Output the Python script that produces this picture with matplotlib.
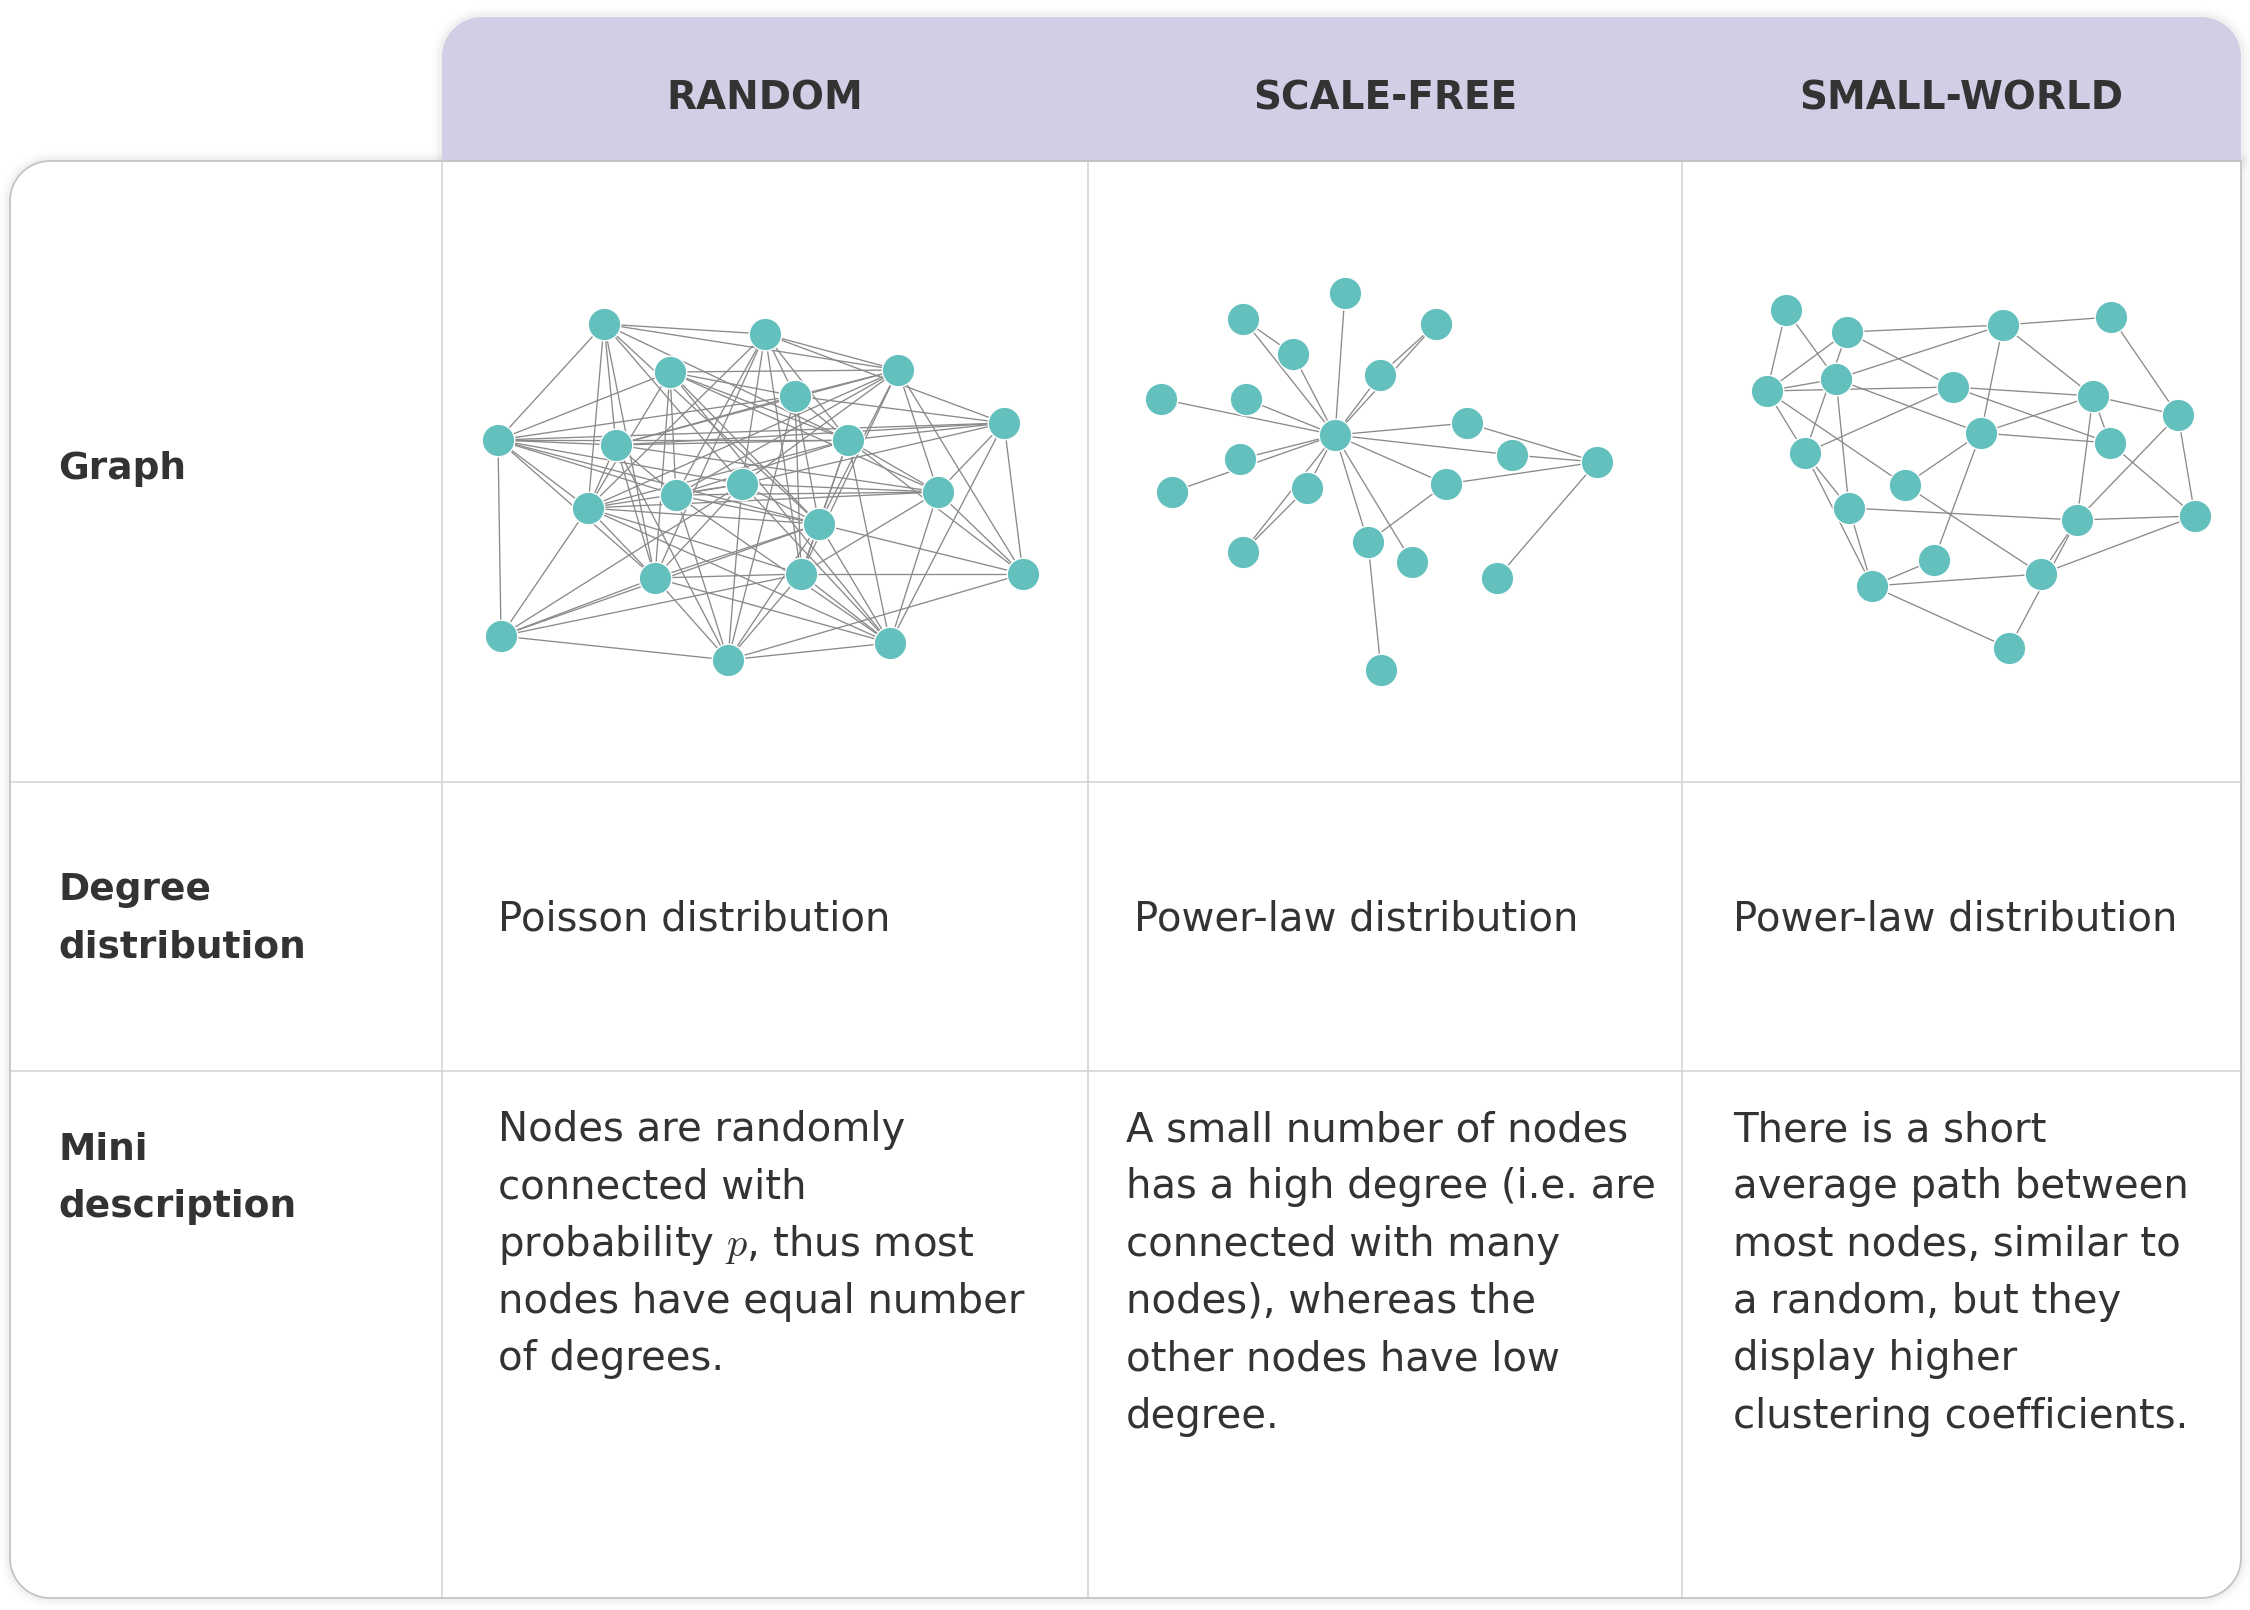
import numpy as np
import matplotlib
matplotlib.use("Agg")
import matplotlib.pyplot as plt
from matplotlib.path import Path
from matplotlib.patches import PathPatch
from matplotlib.collections import LineCollection

# ------------------------------------------------------
# Table content
# ------------------------------------------------------
columns = ["RANDOM", "SCALE-FREE", "SMALL-WORLD"]
row_labels = [["Graph"], ["Degree", "distribution"], ["Mini", "description"]]
degree_text = ["Poisson distribution", "Power-law distribution", "Power-law distribution"]
mini_text = [
    ["Nodes are randomly", "connected with", "probability $p$, thus most",
     "nodes have equal number", "of degrees."],
    ["A small number of nodes", "has a high degree (i.e. are", "connected with many",
     "nodes), whereas the", "other nodes have low", "degree."],
    ["There is a short", "average path between", "most nodes, similar to",
     "a random, but they", "display higher", "clustering coefficients."],
]

# ------------------------------------------------------
# Graph layouts (node positions, in pixels)
# ------------------------------------------------------
random_x = [604, 765, 670, 898, 795, 1004, 498, 616, 848, 742,
            676, 938, 588, 819, 655, 801, 1023, 501, 728, 890]
random_y = [324, 334, 372, 370, 396, 423, 440, 445, 440, 484,
            495, 492, 508, 524, 578, 574, 574, 636, 660, 643]
random_edges = [
    (0, 1), (0, 3), (0, 8), (0, 6), (0, 7), (0, 12), (0, 14), (0, 9), (0, 13),
    (1, 3), (1, 12), (1, 10), (1, 9), (1, 4), (1, 8), (1, 14), (1, 15), (1, 5),
    (2, 6), (2, 3), (2, 4), (2, 12), (2, 10), (2, 8), (2, 13), (2, 19), (2, 11), (2, 14),
    (3, 4), (3, 9), (3, 12), (3, 13), (3, 15), (3, 11), (3, 16), (3, 7), (3, 10),
    (4, 6), (4, 7), (4, 8), (4, 13), (4, 15), (4, 18), (4, 5),
    (5, 6), (5, 7), (5, 11), (5, 16), (5, 19), (5, 8), (5, 9),
    (6, 7), (6, 8), (6, 10), (6, 12), (6, 17), (6, 14), (6, 13), (6, 9),
    (7, 8), (7, 10), (7, 12), (7, 14), (7, 18), (7, 11),
    (8, 10), (8, 11), (8, 12), (8, 16), (8, 19), (8, 13), (8, 15),
    (9, 10), (9, 11), (9, 12), (9, 13), (9, 14), (9, 17), (9, 18), (9, 19),
    (10, 11), (10, 13), (10, 19), (10, 18),
    (11, 12), (11, 15), (11, 16), (11, 19),
    (12, 14), (12, 15), (12, 17), (12, 19), (12, 13),
    (13, 14), (13, 15), (13, 16), (13, 18), (13, 19),
    (14, 15), (14, 17), (14, 18), (14, 19),
    (15, 16), (15, 17), (15, 18), (15, 19),
    (16, 18), (17, 18), (17, 13), (18, 19),
]

sf_names = ["H", "a", "b", "c", "d", "e", "f", "g", "h", "i",
            "j", "k", "l", "m", "n", "o", "p", "q", "r", "s"]
sf_x = [1335, 1345, 1243, 1293, 1436, 1380, 1161, 1246, 1467, 1240,
        1512, 1597, 1172, 1307, 1446, 1243, 1368, 1412, 1497, 1381]
sf_y = [435, 293, 319, 354, 324, 375, 399, 399, 423, 459,
        455, 462, 492, 488, 484, 552, 542, 562, 578, 670]
sf_edges = [
    ("H", "a"), ("H", "b"), ("H", "c"), ("b", "c"), ("H", "d"), ("d", "e"), ("H", "e"),
    ("H", "f"), ("H", "g"), ("H", "i"), ("H", "l"), ("H", "m"), ("o", "m"), ("H", "o"),
    ("H", "h"), ("H", "j"), ("H", "n"), ("H", "p"), ("H", "q"), ("p", "s"), ("n", "p"),
    ("n", "k"), ("h", "k"), ("j", "k"), ("k", "r"),
]

sw_names = ["A", "B", "C", "D", "E", "F", "G", "H", "I", "J",
            "K", "L", "M", "N", "O", "P", "Q", "R", "S", "T"]
sw_x = [1786, 1847, 2003, 2111, 1767, 1836, 1953, 2093, 2178, 1981,
        2110, 1805, 1905, 1849, 2077, 2195, 1934, 1872, 2041, 2009]
sw_y = [310, 332, 325, 317, 391, 379, 387, 396, 415, 433,
        443, 453, 485, 508, 520, 516, 560, 586, 574, 648]
sw_edges = [
    ("A", "E"), ("A", "F"), ("B", "E"), ("B", "C"), ("B", "G"), ("B", "L"),
    ("C", "D"), ("C", "F"), ("C", "H"), ("C", "J"), ("D", "I"), ("E", "F"),
    ("E", "G"), ("E", "L"), ("E", "M"), ("F", "J"), ("F", "N"), ("G", "L"),
    ("G", "H"), ("G", "K"), ("H", "J"), ("H", "I"), ("H", "K"), ("H", "O"),
    ("J", "K"), ("J", "M"), ("J", "Q"), ("K", "P"), ("I", "O"), ("I", "P"),
    ("L", "N"), ("L", "R"), ("N", "R"), ("N", "O"), ("M", "S"), ("O", "P"),
    ("O", "S"), ("O", "T"), ("P", "S"), ("Q", "R"), ("R", "S"), ("R", "T"),
]

# ------------------------------------------------------
# Styling
# ------------------------------------------------------
TEXT = "#333333"
HEADER_BG = "#d3cde6"
GRID = "#d2d2d2"
BORDER = "#c4c4c4"
NODE = "#63c0bd"
EDGE = "#8a8a8a"

W, H = 2250, 1610
LEFT, RIGHT = 10, 2241
COL_X = [442, 1088, 1682]
HEAD_TOP, HEAD_BOT, TABLE_BOT = 17, 161, 1598
ROW_Y = [782, 1071]
R = 40


def rounded_rect(x0, y0, x1, y1, r_tl, r_tr, r_br, r_bl, n=24):
    # y grows downwards (inverted axis)
    pts = []
    for (cx, cy, r, t0) in [(x0 + r_tl, y0 + r_tl, r_tl, np.pi),
                            (x1 - r_tr, y0 + r_tr, r_tr, 1.5 * np.pi),
                            (x1 - r_br, y1 - r_br, r_br, 0.0),
                            (x0 + r_bl, y1 - r_bl, r_bl, 0.5 * np.pi)]:
        t = np.linspace(t0, t0 + 0.5 * np.pi, n)
        pts.extend(zip(cx + r * np.cos(t), cy + r * np.sin(t)))
    pts.append(pts[0])
    return Path(pts, closed=True)


def draw_graph(ax, xs, ys, edges, names=None):
    if names is not None:
        idx = {nm: i for i, nm in enumerate(names)}
        edges = [(idx[a], idx[b]) for a, b in edges]
    segs = [[(xs[a], ys[a]), (xs[b], ys[b])] for a, b in edges]
    ax.add_collection(LineCollection(segs, colors=EDGE, linewidths=0.95, zorder=3))
    ax.scatter(xs, ys, s=550, c=NODE, edgecolors="white", linewidths=1.0, zorder=4)


fig = plt.figure(figsize=(22.5, 16.1), dpi=100)
ax = fig.add_axes([0, 0, 1, 1])
ax.set_xlim(0, W)
ax.set_ylim(H, 0)
ax.axis("off")

# soft shadow + boxes
table_path = rounded_rect(LEFT, HEAD_BOT, RIGHT, TABLE_BOT, R, 0, R, R)
header_path = rounded_rect(COL_X[0], HEAD_TOP, RIGHT, HEAD_BOT, R, R, 0, 0)
for lw, a in [(14, 0.012), (9, 0.018), (5, 0.025)]:
    ax.add_patch(PathPatch(table_path, fill=False, edgecolor="black", lw=lw, alpha=a, zorder=0))
    ax.add_patch(PathPatch(header_path, fill=False, edgecolor="black", lw=lw, alpha=a, zorder=0))
ax.add_patch(PathPatch(header_path, facecolor=HEADER_BG, edgecolor="none", zorder=1))
ax.add_patch(PathPatch(table_path, facecolor="white", edgecolor=BORDER, lw=1.3, zorder=1))

# grid lines
ax.vlines(COL_X, HEAD_BOT, TABLE_BOT, colors=GRID, lw=1.1, zorder=2)
ax.hlines(ROW_Y, LEFT, RIGHT, colors=GRID, lw=1.1, zorder=2)
ax.hlines(HEAD_BOT, COL_X[0], RIGHT, colors=BORDER, lw=1.3, zorder=2)

# header
col_edges = COL_X + [RIGHT]
for i, name in enumerate(columns):
    cx = (col_edges[i] + col_edges[i + 1]) / 2
    ax.text(cx, 109, name, ha="center", va="baseline", fontsize=28,
            fontweight="bold", color=TEXT, zorder=5)

# row labels
label_base = [[479], [900, 957], [1160, 1217]]
for lines, bases in zip(row_labels, label_base):
    for s, yb in zip(lines, bases):
        ax.text(58, yb, s, ha="left", va="baseline", fontsize=27,
                fontweight="bold", color=TEXT, zorder=5)

# degree distribution row
degree_x = [498, 1134, 1733]
for x, s in zip(degree_x, degree_text):
    ax.text(x, 930, s, ha="left", va="baseline", fontsize=29, color=TEXT, zorder=5)

# mini description row
mini_x = [498, 1126, 1733]
for x, lines in zip(mini_x, mini_text):
    for k, s in enumerate(lines):
        ax.text(x, 1141 + k * 57.3, s, ha="left", va="baseline", fontsize=29,
                color=TEXT, math_fontfamily="cm", zorder=5)

# graphs
draw_graph(ax, random_x, random_y, random_edges)
draw_graph(ax, sf_x, sf_y, sf_edges, sf_names)
draw_graph(ax, sw_x, sw_y, sw_edges, sw_names)

fig.savefig("out.png", dpi=100, facecolor="white")
